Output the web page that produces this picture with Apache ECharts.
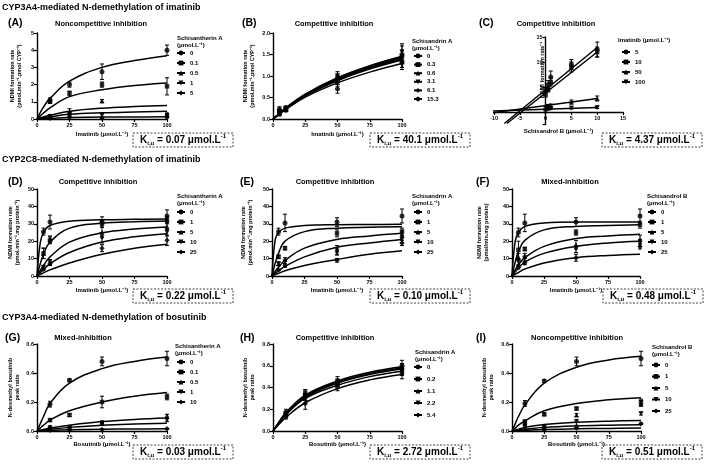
<!DOCTYPE html>
<html>
<head>
<meta charset="utf-8">
<title>Inhibition kinetics</title>
<script src="https://cdn.jsdelivr.net/npm/echarts@6/dist/echarts.min.js"></script>
<style>html,body{margin:0;padding:0;background:#fff}</style>
</head>
<body>
<div id="main" style="width:709px;height:465px;"></div>
<script>
const curveX = [0, 2.5, 5, 10, 25, 50, 75, 100];

// (A) CYP3A4 imatinib, schisantherin A
const aGroups = ['0', '0.1', '0.5', '1', '5'];
const aCurves = [
    [0, 0.37, 0.7, 1.2, 2.2, 3.0, 3.4, 3.68],
    [0, 0.18, 0.35, 0.65, 1.3, 1.7, 1.95, 2.1],
    [0, 0.06, 0.12, 0.22, 0.45, 0.63, 0.72, 0.78],
    [0, 0.04, 0.07, 0.13, 0.27, 0.36, 0.41, 0.45],
    [0, 0.01, 0.02, 0.04, 0.08, 0.11, 0.12, 0.13]
];
const aPoints = [
    [[10, 1.1, 0.12], [25, 2.0, 0.15], [50, 2.75, 0.45], [100, 4.0, 0.3]],
    [[10, 1.0, 0.1], [25, 1.5, 0.12], [50, 2.0, 0.15], [100, 1.9, 0.5]],
    [[10, 0.2, 0.05], [25, 0.45, 0.15], [50, 1.05, 0.08], [100, 0.3, 0.05]],
    [[10, 0.15, 0.05], [25, 0.3, 0.1], [50, 0.2, 0.1], [100, 0.2, 0.05]],
    [[10, 0.05, 0.02], [25, 0.1, 0.03], [50, 0.05, 0.02], [100, 0.1, 0.03]]
];

// (B) CYP3A4 imatinib, schisandrin A
const bGroups = ['0', '0.3', '0.6', '3.1', '6.1', '15.3'];
const bCurves = [
    [0, 0.065, 0.13, 0.26, 0.58, 0.96, 1.24, 1.46],
    [0, 0.064, 0.128, 0.255, 0.57, 0.95, 1.22, 1.44],
    [0, 0.063, 0.126, 0.25, 0.56, 0.93, 1.2, 1.42],
    [0, 0.062, 0.123, 0.245, 0.55, 0.91, 1.18, 1.39],
    [0, 0.06, 0.12, 0.24, 0.54, 0.89, 1.16, 1.37],
    [0, 0.056, 0.112, 0.225, 0.51, 0.84, 1.09, 1.29]
];
const bPoints = [
    [[5, 0.2, 0.08], [10, 0.25, 0.03], [50, 0.95, 0.1], [100, 1.5, 0.2]],
    [[5, 0.18, 0.06], [10, 0.24, 0.03], [50, 0.93, 0.08], [100, 1.45, 0.15]],
    [[5, 0.15, 0.05], [10, 0.22, 0.03], [50, 0.9, 0.1], [100, 1.4, 0.2]],
    [[5, 0.12, 0.05], [10, 0.25, 0.03], [50, 1.0, 0.1], [100, 1.55, 0.2]],
    [[5, 0.22, 0.06], [10, 0.27, 0.03], [50, 0.85, 0.1], [100, 1.35, 0.15]],
    [[5, 0.13, 0.05], [10, 0.2, 0.03], [50, 0.7, 0.1], [100, 1.3, 0.15]]
];

// (C) Dixon plot, schisandrol B vs 1/rate
const cGroups = ['5', '10', '50', '100'];
const cLines = [
    [[-8, -2.3], [10, 12.9]],
    [[-7.5, -2.3], [10, 12.0]],
    [[-10.5, -0.2], [10, 2.7]],
    [[-10.5, 0.2], [10, 0.9]]
];
const cPoints = [
    [[0, 4.5, 0.5], [0.5, 5.5, 0.8], [1, 7, 1.2], [5, 9.5, 1], [10, 12.5, 1.5]],
    [[0, 3.5, 0.5], [0.5, 4.5, 0.5], [1, 6, 0.8], [5, 9, 1], [10, 12, 1]],
    [[0, 0.8, 0.3], [0.5, 1.2, 0.3], [1, 1.3, 0.3], [5, 2, 0.4], [10, 2.7, 0.5]],
    [[0, 0.4, 0.2], [0.5, 0.6, 0.2], [1, 0.7, 0.2], [5, 0.8, 0.2], [10, 0.9, 0.2]]
];

// (D) CYP2C8 imatinib, schisantherin A
const dGroups = ['0', '1', '5', '10', '25'];
const dCurves = [
    [0, 19, 25, 29, 31.5, 32.3, 32.6, 32.8],
    [0, 7, 12.5, 19.5, 27.5, 30.3, 31.2, 31.6],
    [0, 3.2, 6, 11, 19.5, 24.8, 27, 28.2],
    [0, 2, 3.8, 7, 13.5, 19.5, 22.5, 24.3],
    [0, 1, 1.8, 3.5, 7.5, 12.5, 16, 18.3]
];
const dPoints = [
    [[5, 25.5, 2], [10, 31, 4], [50, 31, 3], [100, 34.5, 3.5]],
    [[5, 13, 3], [10, 20.5, 2], [50, 30, 2], [100, 32, 2]],
    [[5, 13, 3], [10, 21, 2], [50, 25, 3], [100, 28.5, 2]],
    [[5, 5, 1], [10, 8, 1.5], [50, 22, 3], [100, 25, 2]],
    [[5, 4, 1], [10, 7, 1], [50, 16, 2], [100, 20.5, 3]]
];

// (E) CYP2C8 imatinib, schisandrin A
const eGroups = ['0', '1', '5', '10', '25'];
const eCurves = [
    [0, 21, 25, 27.5, 29, 29.5, 29.6, 29.7],
    [0, 7.5, 13, 20, 25.5, 27.5, 28, 28.3],
    [0, 2.7, 5, 9, 16, 21, 23, 24.5],
    [0, 1.6, 3, 5.5, 11, 16.5, 19, 21],
    [0, 0.8, 1.5, 3, 6, 9.5, 12.5, 14.5]
];
const ePoints = [
    [[5, 25.5, 2], [10, 30.5, 5], [50, 31, 2.5], [100, 34.5, 4]],
    [[5, 11, 1], [10, 16, 1], [50, 24.5, 2], [100, 25.5, 2]],
    [[5, 7, 1], [10, 9.5, 1], [50, 15, 2.5], [100, 24, 2]],
    [[5, 7, 1], [10, 8, 1], [50, 14, 2], [100, 21, 2]],
    [[5, 3.5, 0.5], [10, 6, 1], [50, 9, 1], [100, 19, 1.5]]
];

// (F) CYP2C8 imatinib, schisandrol B
const fGroups = ['0', '1', '5', '10', '25'];
const fCurves = [
    [0, 20, 25, 28.5, 30.5, 31, 31, 31],
    [0, 8, 14, 20.5, 26.5, 28.5, 29, 29.5],
    [0, 3.5, 6.5, 10.5, 17, 21.5, 23, 24],
    [0, 2.4, 4.5, 8, 13, 17, 19, 20],
    [0, 1, 2, 4, 7.5, 10.5, 11.8, 12.5]
];
const fPoints = [
    [[5, 25, 2.5], [10, 30.5, 5], [50, 31, 2.5], [100, 34.5, 4]],
    [[5, 15, 5], [10, 15.5, 1], [50, 25, 1.5], [100, 29.5, 2]],
    [[5, 11, 2], [10, 11.5, 1.5], [50, 18, 2.5], [100, 21, 2.5]],
    [[5, 8, 1.5], [10, 10, 1.5], [50, 15.5, 2], [100, 19, 2]],
    [[5, 5, 1], [10, 7.5, 1], [50, 10.5, 2], [100, 17, 1.5]]
];

// (G) CYP3A4 bosutinib, schisantherin A
const gGroups = ['0', '0.1', '0.5', '1', '10'];
const gCurves = [
    [0, 0.05, 0.1, 0.19, 0.33, 0.43, 0.48, 0.51],
    [0, 0.02, 0.04, 0.075, 0.14, 0.2, 0.24, 0.265],
    [0, 0.005, 0.01, 0.02, 0.04, 0.065, 0.08, 0.09],
    [0, 0.003, 0.006, 0.012, 0.025, 0.04, 0.048, 0.053],
    [0, 0.001, 0.002, 0.004, 0.008, 0.012, 0.014, 0.016]
];
const gPoints = [
    [[10, 0.185, 0.02], [25, 0.35, 0.01], [50, 0.48, 0.03], [100, 0.5, 0.05]],
    [[10, 0.075, 0.01], [25, 0.11, 0.01], [50, 0.2, 0.04], [100, 0.235, 0.02]],
    [[10, 0.03, 0.005], [25, 0.03, 0.005], [50, 0.06, 0.01], [100, 0.105, 0.01]],
    [[10, 0.02, 0.005], [25, 0.02, 0.005], [50, 0.05, 0.01], [100, 0.075, 0.01]],
    [[10, 0.005, 0.002], [25, 0.008, 0.002], [50, 0.01, 0.002], [100, 0.015, 0.003]]
];

// (H) CYP3A4 bosutinib, schisandrin A
const hGroups = ['0', '0.2', '1.1', '2.2', '5.4'];
const hCurves = [
    [0, 0.045, 0.09, 0.17, 0.33, 0.46, 0.54, 0.59],
    [0, 0.043, 0.085, 0.16, 0.32, 0.45, 0.53, 0.58],
    [0, 0.042, 0.082, 0.155, 0.31, 0.44, 0.52, 0.57],
    [0, 0.04, 0.078, 0.15, 0.3, 0.42, 0.5, 0.55],
    [0, 0.034, 0.066, 0.125, 0.26, 0.39, 0.47, 0.52]
];
const hPoints = [
    [[10, 0.17, 0.03], [25, 0.33, 0.05], [50, 0.46, 0.04], [100, 0.6, 0.05]],
    [[10, 0.16, 0.02], [25, 0.35, 0.03], [50, 0.45, 0.03], [100, 0.58, 0.04]],
    [[10, 0.15, 0.02], [25, 0.3, 0.04], [50, 0.44, 0.03], [100, 0.57, 0.05]],
    [[10, 0.14, 0.02], [25, 0.31, 0.03], [50, 0.42, 0.03], [100, 0.55, 0.04]],
    [[10, 0.13, 0.02], [25, 0.25, 0.05], [50, 0.4, 0.03], [100, 0.53, 0.05]]
];

// (I) CYP3A4 bosutinib, schisandrol B
const iGroups = ['0', '1', '5', '10', '25'];
const iCurves = [
    [0, 0.05, 0.1, 0.18, 0.33, 0.44, 0.49, 0.515],
    [0, 0.02, 0.04, 0.07, 0.14, 0.19, 0.215, 0.23],
    [0, 0.007, 0.013, 0.025, 0.045, 0.06, 0.068, 0.072],
    [0, 0.003, 0.006, 0.012, 0.025, 0.035, 0.04, 0.043],
    [0, 0.001, 0.003, 0.005, 0.01, 0.015, 0.018, 0.02]
];
const iPoints = [
    [[10, 0.19, 0.02], [25, 0.345, 0.01], [50, 0.48, 0.03], [100, 0.5, 0.05]],
    [[10, 0.065, 0.01], [25, 0.115, 0.01], [50, 0.155, 0.01], [100, 0.2, 0.02]],
    [[10, 0.05, 0.005], [25, 0.035, 0.005], [50, 0.11, 0.01], [100, 0.19, 0.02]],
    [[10, 0.03, 0.005], [25, 0.02, 0.005], [50, 0.06, 0.02], [100, 0.12, 0.01]],
    [[10, 0.01, 0.003], [25, 0.01, 0.003], [50, 0.02, 0.005], [100, 0.05, 0.005]]
];

const kValues = ['0.07', '40.1', '4.37', '0.22', '0.10', '0.48', '0.03', '2.72', '0.51'];

const FONT = '"Liberation Sans", Arial, sans-serif';
const UNIT = '(\u03bcmol.L\u207b\u00b9)';
const SYM = ['circle', 'rect', 'triangle', 'path://M0,0L10,0L5,9Z', 'diamond', 'path://M5,0L10,3L10,7L5,10L0,7L0,3Z'];
const SYMSIZE = [5, 4.5, 5, 5, 5.5, 5];

const rateName = 'NDMI formation rate\n(pmol.min\u207b\u00b9.pmol CYP\u207b\u00b9)';
const protName = 'NDMI formation rate\n(pmol.min\u207b\u00b9.mg protein\u207b\u00b9)';
const bosName = 'N-desmethyl bosutinib\npeak ratio';

const panels = [
    {key: 'A', title: 'Noncompetitive inhibition', groups: aGroups, curves: aCurves, points: aPoints,
     grid: [37, 33, 130, 86], y: [0, 5, 1, 0], yName: rateName, yGap: 14, xName: 'Imatinib ' + UNIT, xGap: 12,
     leg: [176, 49, 2], legTitle: ['Schisantherin A', UNIT], legTitleXY: [177, 38], box: [133, 133], label: [8, 23], titleX: 101, titleY: 24},
    {key: 'B', title: 'Competitive inhibition', groups: bGroups, curves: bCurves, points: bPoints,
     grid: [273, 33, 129, 86], y: [0, 2, 0.5, 1], yName: rateName, yGap: 17, xName: 'Imatinib ' + UNIT, xGap: 12,
     leg: [413, 52, 0.6], legTitle: ['Schisandrin A', UNIT], legTitleXY: [412, 41], box: [370, 133], label: [242, 23], titleX: 334, titleY: 24},
    {key: 'C', title: 'Competitive inhibition', groups: cGroups, lines: cLines, points: cPoints,
     grid: [494, 37, 129, 87.5], yName: '', xName: 'Schisandrol B ' + UNIT, xGap: 16,
     leg: [621, 48, 2], legTitle: ['Imatinib ' + UNIT], legTitleXY: [618, 40], box: [602, 133], label: [479, 23], titleX: 556, titleY: 24},
    {key: 'D', title: 'Competitive inhibition', groups: dGroups, curves: dCurves, points: dPoints,
     grid: [37, 189, 130, 87], y: [0, 50, 10, 0], yName: protName, yGap: 16, xName: 'Imatinib ' + UNIT, xGap: 11,
     leg: [176, 208, 2], legTitle: ['Schisantherin A', UNIT], legTitleXY: [177, 196], box: [133, 289], label: [8, 182], titleX: 98, titleY: 182},
    {key: 'E', title: 'Competitive inhibition', groups: eGroups, curves: eCurves, points: ePoints,
     grid: [272, 189, 130, 87], y: [0, 50, 10, 0], yName: protName, yGap: 18, xName: 'Imatinib ' + UNIT, xGap: 11,
     leg: [413, 208, 2], legTitle: ['Schisandrin A', UNIT], legTitleXY: [412, 196], box: [370, 289], label: [240, 182], titleX: 335, titleY: 182},
    {key: 'F', title: 'Mixed-inhibition', groups: fGroups, curves: fCurves, points: fPoints,
     grid: [512, 189, 128, 87], y: [0, 50, 10, 0], yName: 'NDMI formation rate\n(pmol/min.mg protein)', yGap: 22, xName: 'Imatinib ' + UNIT, xGap: 11,
     leg: [647, 208, 2], legTitle: ['Schisandrol B', UNIT], legTitleXY: [647, 196], box: [603, 289], label: [476, 182], titleX: 570, titleY: 182},
    {key: 'G', title: 'Mixed-inhibition', groups: gGroups, curves: gCurves, points: gPoints,
     grid: [37, 344, 130, 87], y: [0, 0.6, 0.2, 1], yName: bosName, yGap: 16, xName: 'Bosutinib ' + UNIT, xGap: 10,
     leg: [176, 358, 2], legTitle: ['Schisantherin A', UNIT], legTitleXY: [175, 346], box: [133, 445], label: [5, 338], titleX: 83, titleY: 338},
    {key: 'H', title: 'Competitive inhibition', groups: hGroups, curves: hCurves, points: hPoints,
     grid: [273, 344, 129, 87], y: [0, 0.8, 0.2, 1], yName: bosName, yGap: 17, xName: 'Bosutinib ' + UNIT, xGap: 10,
     leg: [413, 363, 4], legTitle: ['Schisandrin A', UNIT], legTitleXY: [415, 352], box: [370, 445], label: [240, 338], titleX: 335, titleY: 338},
    {key: 'I', title: 'Noncompetitive inhibition', groups: iGroups, curves: iCurves, points: iPoints,
     grid: [512, 344, 129, 87], y: [0, 0.6, 0.2, 1], yName: bosName, yGap: 17, xName: 'Bosutinib ' + UNIT, xGap: 10,
     leg: [651, 361, 3.5], legTitle: ['Schisandrol B', UNIT], legTitleXY: [652, 347], box: [602, 445], label: [476, 338], titleX: 577, titleY: 338}
];

const headers = [
    ['CYP3A4-mediated N-demethylation of imatinib', 8],
    ['CYP2C8-mediated N-demethylation of imatinib', 160],
    ['CYP3A4-mediated N-demethylation of bosutinib', 318]
];

const bold = {fontFamily: FONT, fontWeight: 'bold', color: '#000'};
const axisLine = {onZero: false, lineStyle: {color: '#000', width: 1.4}};
const axisTick = {length: 3, lineStyle: {color: '#000', width: 1.2}};

function errBar(params, api) {
    const x = api.value(0), y = api.value(1), e = api.value(2);
    const hi = api.coord([x, y + e]);
    const lo = api.coord([x, y - e]);
    const w = 2;
    const st = {stroke: '#000', lineWidth: 1};
    return {
        type: 'group',
        children: [
            {type: 'line', shape: {x1: hi[0], y1: hi[1], x2: lo[0], y2: lo[1]}, style: st},
            {type: 'line', shape: {x1: hi[0] - w, y1: hi[1], x2: hi[0] + w, y2: hi[1]}, style: st},
            {type: 'line', shape: {x1: lo[0] - w, y1: lo[1], x2: lo[0] + w, y2: lo[1]}, style: st}
        ]
    };
}

const grids = [], xAxes = [], yAxes = [], series = [], legends = [], graphics = [];

panels.forEach(function (p, i) {
    grids.push({left: p.grid[0], top: p.grid[1], width: p.grid[2], height: p.grid[3]});
    const isC = p.key === 'C';
    // the Dixon plot's axes cross at zero: shift them there with offset
    const cx0 = p.grid[2] * 10 / 25;
    const cy0 = p.grid[3] * 2.5 / 17.5;
    xAxes.push({
        gridIndex: i, type: 'value',
        min: isC ? -10 : 0, max: isC ? 15 : 100, interval: isC ? 5 : 25,
        offset: isC ? -cy0 : 0,
        name: p.xName, nameLocation: 'middle', nameGap: p.xGap,
        nameTextStyle: Object.assign({fontSize: 6}, bold),
        axisLine: axisLine, axisTick: axisTick,
        axisLabel: Object.assign({fontSize: 5.5, margin: 3}, bold),
        splitLine: {show: false}
    });
    if (isC) {
        yAxes.push({
            gridIndex: i, type: 'value', min: -2.5, max: 15, offset: -cx0,
            axisLine: axisLine,
            axisTick: Object.assign({customValues: [-2.5, 0, 5, 10, 15]}, axisTick),
            axisLabel: Object.assign({fontSize: 5.5, margin: 3, customValues: [5, 10, 15]}, bold),
            splitLine: {show: false}
        });
    } else {
        const dec = p.y[3];
        yAxes.push({
            gridIndex: i, type: 'value', min: p.y[0], max: p.y[1], interval: p.y[2],
            name: p.yName, nameLocation: 'middle', nameGap: p.yGap, nameRotate: 90,
            nameTextStyle: Object.assign({fontSize: 5.5, lineHeight: 7}, bold),
            axisLine: axisLine, axisTick: axisTick,
            axisLabel: Object.assign({fontSize: 5.5, margin: 3, formatter: function (v) { return v.toFixed(dec); }}, bold),
            splitLine: {show: false}
        });
    }

    p.groups.forEach(function (g, j) {
        const lineData = isC ? p.lines[j] : curveX.map(function (x, k) { return [x, p.curves[j][k]]; });
        series.push({
            name: p.key + '|' + g, type: 'line', xAxisIndex: i, yAxisIndex: i,
            data: lineData, smooth: isC ? false : 0.4,
            showSymbol: false, symbol: SYM[j], symbolSize: SYMSIZE[j],
            lineStyle: {color: '#000', width: 1.5}, itemStyle: {color: '#000'},
            silent: true, z: 2
        });
        series.push({
            type: 'custom', xAxisIndex: i, yAxisIndex: i, renderItem: errBar,
            data: p.points[j], encode: {x: 0, y: 1}, silent: true, z: 3
        });
        series.push({
            type: 'scatter', xAxisIndex: i, yAxisIndex: i,
            data: p.points[j].map(function (d) { return [d[0], d[1]]; }),
            symbol: SYM[j], symbolSize: SYMSIZE[j], itemStyle: {color: '#000'},
            silent: true, z: 4
        });
    });

    legends.push({
        orient: 'vertical', left: p.leg[0], top: p.leg[1], itemGap: p.leg[2],
        itemWidth: 8, itemHeight: 6, padding: 0, selectedMode: false,
        data: p.groups.map(function (g) { return p.key + '|' + g; }),
        formatter: function (n) { return n.split('|')[1]; },
        textStyle: Object.assign({fontSize: 6, lineHeight: 8}, bold)
    });

    // panel letter and title
    graphics.push({type: 'text', x: p.label[0], y: p.label[1],
        style: {text: '(' + p.key + ')', font: 'bold 10.5px ' + FONT, fill: '#000', textVerticalAlign: 'middle'}});
    graphics.push({type: 'text', x: p.titleX, y: p.titleY,
        style: {text: p.title, font: 'bold 7.5px ' + FONT, fill: '#000', textAlign: 'center', textVerticalAlign: 'middle'}});
    // legend title
    p.legTitle.forEach(function (t, k) {
        graphics.push({type: 'text', x: p.legTitleXY[0], y: p.legTitleXY[1] + k * 7.5,
            style: {text: t, font: 'bold 6px ' + FONT, fill: '#000', textVerticalAlign: 'middle'}});
    });
    // K box
    graphics.push({type: 'rect', shape: {x: p.box[0], y: p.box[1], width: 100, height: 14},
        style: {fill: '#fff', stroke: '#444', lineWidth: 1, lineDash: [2, 1.5]}});
    graphics.push({type: 'text', x: p.box[0] + 50, y: p.box[1] + 7,
        style: {
            text: '{k|K}{s|i,u}{m| = ' + kValues[i] + ' \u03bcmol.L}{p|-1}',
            textAlign: 'center', textVerticalAlign: 'middle', fill: '#000',
            rich: {
                k: {fontFamily: FONT, fontWeight: 'bold', fontSize: 10, lineHeight: 13, verticalAlign: 'middle'},
                m: {fontFamily: FONT, fontWeight: 'bold', fontSize: 10, lineHeight: 13, verticalAlign: 'middle'},
                s: {fontFamily: FONT, fontWeight: 'bold', fontSize: 6, lineHeight: 13, verticalAlign: 'bottom'},
                p: {fontFamily: FONT, fontWeight: 'bold', fontSize: 6, lineHeight: 13, verticalAlign: 'top'}
            }
        }});
});

// rotated y name for the Dixon plot
graphics.push({type: 'text', x: 542, y: 70, rotation: Math.PI / 2,
    style: {text: 'NDMI formation rate\u207b\u00b9', font: 'bold 5.5px ' + FONT, fill: '#000', textAlign: 'center', textVerticalAlign: 'middle'}});

headers.forEach(function (h) {
    graphics.push({type: 'text', x: 2, y: h[1],
        style: {text: h[0], font: 'bold 9px ' + FONT, fill: '#000', textVerticalAlign: 'middle'}});
});

const chart = echarts.init(document.getElementById('main'));
chart.setOption({
    animation: false,
    backgroundColor: '#fff',
    grid: grids,
    xAxis: xAxes,
    yAxis: yAxes,
    legend: legends,
    series: series,
    graphic: graphics
});
</script>
</body>
</html>
